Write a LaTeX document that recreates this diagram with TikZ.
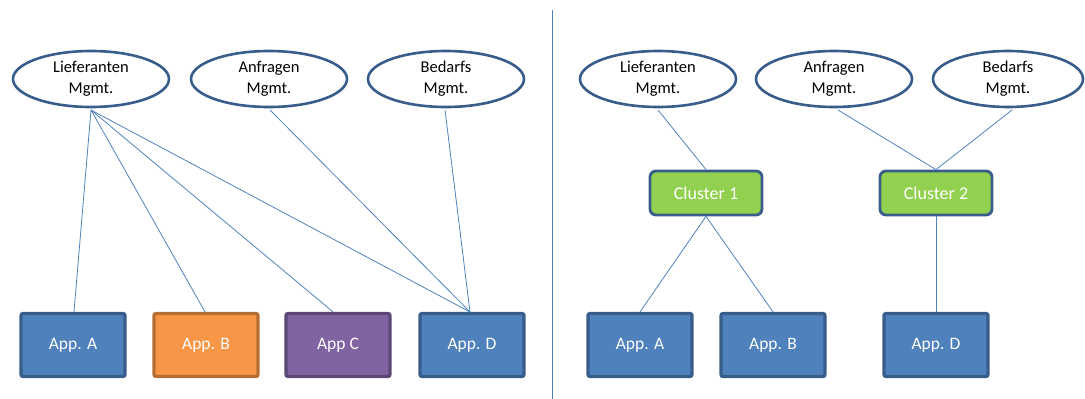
\documentclass[tikz,border=0pt]{standalone}
\usepackage{fontspec}
\setmainfont{Carlito}
\usetikzlibrary{shapes.geometric}
\definecolor{edgeblue}{HTML}{385D8A}
\definecolor{appblue}{HTML}{4F81BD}
\definecolor{apporange}{HTML}{F79646}
\definecolor{orangeedge}{HTML}{B66D31}
\definecolor{apppurple}{HTML}{8064A2}
\definecolor{purpleedge}{HTML}{5C4776}
\definecolor{clustergreen}{HTML}{92D050}
\definecolor{linkblue}{HTML}{4F81BD}
\tikzset{
  x=1pt, y=-1pt,
  mgmt/.style={ellipse, draw=edgeblue, fill=white, line width=2.6pt,
    minimum width=156pt, minimum height=56pt, inner sep=0pt,
    align=center, font=\fontsize{16.5}{21}\selectfont},
  appbox/.style={rectangle, rounded corners=2pt, draw=edgeblue, fill=appblue,
    line width=3.2pt, minimum width=104pt, minimum height=63pt,
    text=white, font=\fontsize{17.5}{20}\selectfont},
  clusterbox/.style={rectangle, rounded corners=6pt, draw=edgeblue, fill=clustergreen,
    line width=2.8pt, minimum width=112pt, minimum height=44pt,
    text=white, font=\fontsize{18}{20}\selectfont},
  link/.style={draw=linkblue, line width=0.8pt},
}
\begin{document}
\begin{tikzpicture}
\useasboundingbox (0,0) rectangle (1085,399);

% divider between the two variants
\coordinate (divtop) at (552,10);
\coordinate (divbot) at (552,399);
\draw[link] (divtop) -- (divbot);

% ---- left: direct connections ----
\node[mgmt] (lL) at (91,79) {Lieferanten\\Mgmt.};
\node[mgmt] (lA) at (269,79) {Anfragen\\Mgmt.};
\node[mgmt] (lB) at (446,79) {Bedarfs\\Mgmt.};

\node[appbox] (la) at (73,345) {App. A};
\node[appbox, fill=apporange, draw=orangeedge] (lb) at (206,345) {App. B};
\node[appbox, fill=apppurple, draw=purpleedge] (lc) at (338,345) {App C};
\node[appbox] (ld) at (472,345) {App. D};

\coordinate (lLs) at (91,110);
\coordinate (lAs) at (270,110);
\coordinate (lBs) at (445,110);
\coordinate (ldt) at (470,312);
\draw[link] (lLs) -- (la.north -| 74,0);
\draw[link] (lLs) -- (lb.north -| 205,0);
\draw[link] (lLs) -- (lc.north -| 333,0);
\draw[link] (lLs) -- (ldt);
\draw[link] (lAs) -- (ldt);
\draw[link] (lBs) -- (ldt);

% ---- right: connections via clusters ----
\node[mgmt] (rL) at (658,79) {Lieferanten\\Mgmt.};
\node[mgmt] (rA) at (834,79) {Anfragen\\Mgmt.};
\node[mgmt, minimum width=150pt] (rB) at (1008,79) {Bedarfs\\Mgmt.};

\node[clusterbox] (c1) at (706,193) {Cluster 1};
\node[clusterbox] (c2) at (936,193) {Cluster 2};

\node[appbox] (ra) at (640,345) {App. A};
\node[appbox] (rb) at (773,345) {App. B};
\node[appbox] (rd) at (936,345) {App. D};

\coordinate (rLs) at (658,110);
\coordinate (rAs) at (838,110);
\coordinate (rBs) at (1012,110);
\draw[link] (rLs) -- (c1.north);
\draw[link] (rAs) -- (c2.north);
\draw[link] (rBs) -- (c2.north);
\draw[link] (c1.south) -- (ra.north);
\draw[link] (c1.south) -- (rb.north);
\draw[link] (c2.south) -- (rd.north);
\end{tikzpicture}
\end{document}
